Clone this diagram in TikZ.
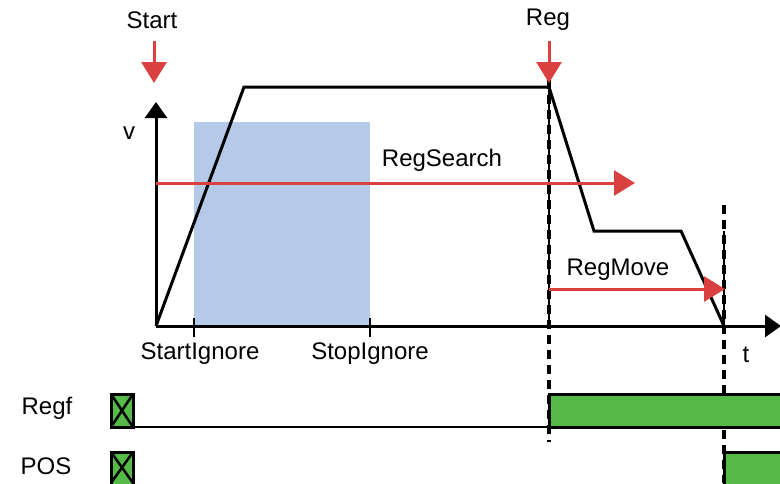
\documentclass[tikz,border=0pt]{standalone}
\usepackage{fontspec}
\setmainfont{Liberation Sans}
\usetikzlibrary{arrows.meta}
\definecolor{myred}{RGB}{218,64,64}
\definecolor{myblue}{RGB}{180,202,232}
\definecolor{mygreen}{RGB}{86,186,72}
\tikzset{
  lbl/.style={font=\fontsize{24}{28}\selectfont, inner sep=0pt},
  redarr/.style={draw=myred, line width=3pt, -{Triangle[length=21pt,width=25pt]}},
  axisline/.style={line width=3pt, -{Triangle[length=16pt,width=22pt]}},
  prof/.style={line width=3pt, line join=miter},
  dashv/.style={line width=3.5pt, dash pattern=on 9pt off 6pt},
  tickl/.style={line width=2.5pt},
  xbox/.style={fill=mygreen, draw=black, line width=3pt},
}
\begin{document}
\begin{tikzpicture}[x=1pt,y=-1pt]
\useasboundingbox (0,0) rectangle (780,483);
% blue ignore window
\fill[myblue] (194,122) rectangle (370,326);
% coordinates
\coordinate (O) at (156,326);
\coordinate (vtop) at (156,102);
\coordinate (tend) at (781,326);
\coordinate (p1) at (244,87);
\coordinate (p2) at (549,87);
\coordinate (p3) at (594,231);
\coordinate (p4) at (681,231);
\coordinate (p5) at (724,326);
% dashed verticals
\coordinate (d1t) at (549,80);
\coordinate (d1b) at (549,442);
\coordinate (d2t) at (724,205);
\coordinate (d2b) at (724,483);
\draw[dashv] (d1t) -- (d1b);
\draw[dashv] (d2t) -- (d2b);
\draw[line width=2.5pt] (p2) -- (549,326);
\draw[line width=2.5pt] (p5) -- (724,231);
% axes
\draw[axisline] (O) -- (vtop);
\draw[axisline] (O) -- (tend);
% velocity profile
\draw[prof] (O) -- (p1) -- (p2) -- (p3) -- (p4) -- (p5);
% ticks
\coordinate (t1a) at (194,318); \coordinate (t1b) at (194,337);
\coordinate (t2a) at (370,318); \coordinate (t2b) at (370,337);
\draw[tickl] (t1a) -- (t1b);
\draw[tickl] (t2a) -- (t2b);
% red arrows
\coordinate (rs1) at (156,183); \coordinate (rs2) at (635,183);
\draw[redarr] (rs1) -- (rs2);
\coordinate (rm1) at (549,289); \coordinate (rm2) at (725,289);
\draw[redarr] (rm1) -- (rm2);
\coordinate (sa1) at (154,41); \coordinate (sa2) at (154,83);
\draw[redarr] (sa1) -- (sa2);
\coordinate (ra1) at (549,41); \coordinate (ra2) at (549,83);
\draw[redarr] (ra1) -- (ra2);
% labels
\node[lbl] (start) at (152,20) {Start};
\node[lbl] (reg) at (548,20) {Reg};
\node[lbl] (v) at (129,133) {v};
\node[lbl] (rsl) at (442,160) {RegSearch};
\node[lbl] (rml) at (618,270) {RegMove};
\node[lbl] (sil) at (200,354) {StartIgnore};
\node[lbl] (stl) at (370,354) {StopIgnore};
\node[lbl] (tl) at (746,355) {t};
\node[lbl] (regf) at (47,408) {Regf};
\node[lbl] (pos) at (46,466) {POS};
% Regf signal
\coordinate (rb1) at (133,427); \coordinate (rb2) at (549,427);
\draw[line width=2.5pt] (rb1) -- (rb2);
\draw[xbox] (549,394) rectangle (790,427);
\draw[xbox] (111,394) rectangle (133,427);
\draw[line width=2.5pt] (111,394) -- (133,427) (133,394) -- (111,427);
% POS signal
\draw[xbox] (724,452) rectangle (790,490);
\draw[xbox] (111,452) rectangle (133,490);
\draw[line width=2.5pt] (111,452) -- (133,483) (133,452) -- (111,483);
\end{tikzpicture}
\end{document}
